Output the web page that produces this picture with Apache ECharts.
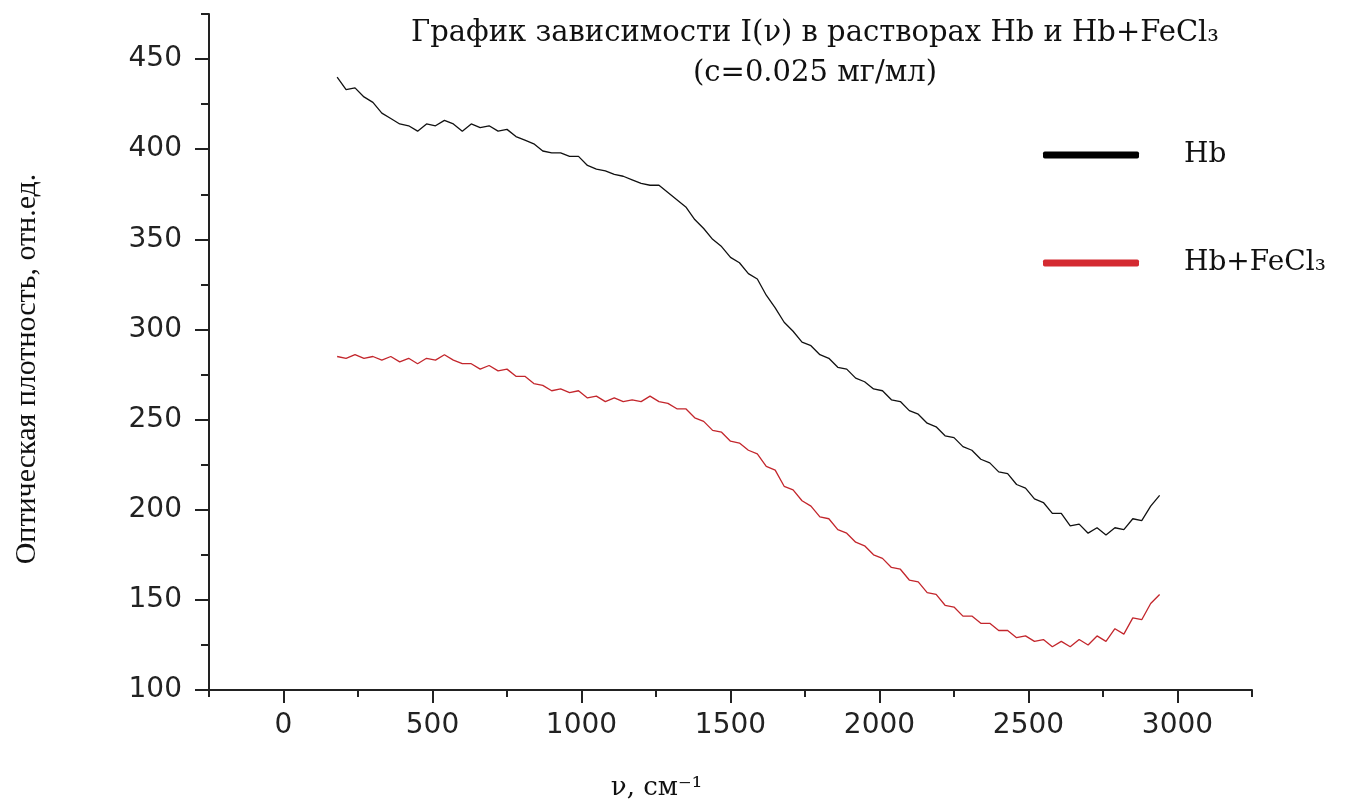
<!DOCTYPE html>
<html>
<head>
<meta charset="utf-8">
<script src="https://cdn.jsdelivr.net/npm/echarts@6/dist/echarts.min.js"></script>
<style>html,body{margin:0;padding:0;background:#fff}#chart{width:1352px;height:805px}</style>
</head>
<body>
<div id="chart"></div>
<script>
const titleText = 'График зависимости I(ν) в растворах Hb и Hb+FeCl₃\n(с=0.025 мг/мл)';
const xName = 'ν, см⁻¹';
const yName = 'Оптическая плотность, отн.ед.';
const seriesNames = ['Hb', 'Hb+FeCl₃'];
const xTickLabels = [0, 500, 1000, 1500, 2000, 2500, 3000];
const yTickLabels = [100, 150, 200, 250, 300, 350, 400, 450];

const nu = [180,210,240,270,300,330,360,390,420,450,480,510,540,570,600,630,660,690,720,750,
  780,810,840,870,900,930,960,990,1020,1050,1080,1110,1140,1170,1200,1230,1260,1290,1320,1350,
  1380,1410,1440,1470,1500,1530,1560,1590,1620,1650,1680,1710,1740,1770,1800,1830,1860,1890,1920,1950,
  1980,2010,2040,2070,2100,2130,2160,2190,2220,2250,2280,2310,2340,2370,2400,2430,2460,2490,2520,2550,
  2580,2610,2640,2670,2700,2730,2760,2790,2820,2850,2880,2910,2940];

const hb = [440,433,434,429,426,420,417,414,413,410,414,413,416,414,410,414,412,413,410,411,
  407,405,403,399,398,398,396,396,391,389,388,386,385,383,381,380,380,376,372,368,
  361,356,350,346,340,337,331,328,319,312,304,299,293,291,286,284,279,278,273,271,
  267,266,261,260,255,253,248,246,241,240,235,233,228,226,221,220,214,212,206,204,
  198,198,191,192,187,190,186,190,189,195,194,202,208];

const hbFe = [285,284,286,284,285,283,285,282,284,281,284,283,286,283,281,281,278,280,277,278,
  274,274,270,269,266,267,265,266,262,263,260,262,260,261,260,263,260,259,256,256,
  251,249,244,243,238,237,233,231,224,222,213,211,205,202,196,195,189,187,182,180,
  175,173,168,167,161,160,154,153,147,146,141,141,137,137,133,133,129,130,127,128,
  124,127,124,128,125,130,127,134,131,140,139,148,153];

const serif = 'DejaVu Serif';
const sans = 'DejaVu Sans';
const axisColor = '#222';
const plain = v => String(v);

const chart = echarts.init(document.getElementById('chart'));
chart.setOption({
  animation: false,
  backgroundColor: '#fff',
  title: {
    text: titleText,
    left: 810,
    top: 8,
    textAlign: 'center',
    textStyle: {fontFamily: serif, fontSize: 29, fontWeight: 'normal', color: '#111', lineHeight: 40}
  },
  legend: {
    orient: 'vertical',
    left: 1038,
    top: 136,
    itemGap: 80,
    itemWidth: 96,
    itemHeight: 7,
    icon: 'roundRect',
    textStyle: {fontFamily: serif, fontSize: 28, color: '#111', padding: [0, 0, 0, 40]},
    data: [
      {name: seriesNames[0], itemStyle: {color: '#000'}},
      {name: seriesNames[1], itemStyle: {color: '#d42a31'}}
    ]
  },
  grid: {left: 209, right: 100, top: 14, bottom: 115, containLabel: false, outerBoundsMode: 'none'},
  xAxis: [
    {
      type: 'value', min: -250, max: 3250, interval: 250,
      name: xName, nameLocation: 'middle', nameGap: 85,
      nameTextStyle: {fontFamily: serif, fontSize: 26, color: '#111', padding: [0, 148, 0, 0]},
      axisLine: {show: true, onZero: false, lineStyle: {color: axisColor, width: 2}},
      axisTick: {show: true, length: 13, lineStyle: {color: axisColor, width: 2}, customValues: xTickLabels},
      axisLabel: {show: true, customValues: xTickLabels, formatter: plain, margin: 22, fontFamily: sans, fontSize: 28, color: '#222'},
      splitLine: {show: false}
    },
    {
      type: 'value', min: -250, max: 3250, interval: 250, position: 'bottom',
      axisLine: {show: false, onZero: false},
      axisTick: {show: true, length: 7, lineStyle: {color: axisColor, width: 2}},
      axisLabel: {show: false},
      splitLine: {show: false}
    }
  ],
  yAxis: [
    {
      type: 'value', min: 100, max: 475, interval: 50,
      name: yName, nameLocation: 'middle', nameGap: 167, nameRotate: 90,
      nameTextStyle: {fontFamily: 'Liberation Serif', fontSize: 30, color: '#111', padding: [0, 34, 0, 0]},
      axisLine: {show: true, onZero: false, lineStyle: {color: axisColor, width: 2}},
      axisTick: {show: true, length: 14, lineStyle: {color: axisColor, width: 2}, customValues: yTickLabels},
      axisLabel: {show: true, customValues: yTickLabels, formatter: plain, margin: 27, fontFamily: sans, fontSize: 28, color: '#222'},
      splitLine: {show: false}
    },
    {
      type: 'value', min: 100, max: 475, interval: 25, position: 'left',
      axisLine: {show: false, onZero: false},
      axisTick: {show: true, length: 8, lineStyle: {color: axisColor, width: 2}},
      axisLabel: {show: false},
      splitLine: {show: false}
    }
  ],
  series: [
    {
      name: seriesNames[0], type: 'line', xAxisIndex: 0, yAxisIndex: 0,
      symbol: 'none', showSymbol: false,
      lineStyle: {color: '#111', width: 1.3},
      itemStyle: {color: '#000'},
      data: nu.map((x, i) => [x, hb[i]])
    },
    {
      name: seriesNames[1], type: 'line', xAxisIndex: 0, yAxisIndex: 0,
      symbol: 'none', showSymbol: false,
      lineStyle: {color: '#c3262c', width: 1.3},
      itemStyle: {color: '#d42a31'},
      data: nu.map((x, i) => [x, hbFe[i]])
    }
  ]
});
</script>
</body>
</html>
